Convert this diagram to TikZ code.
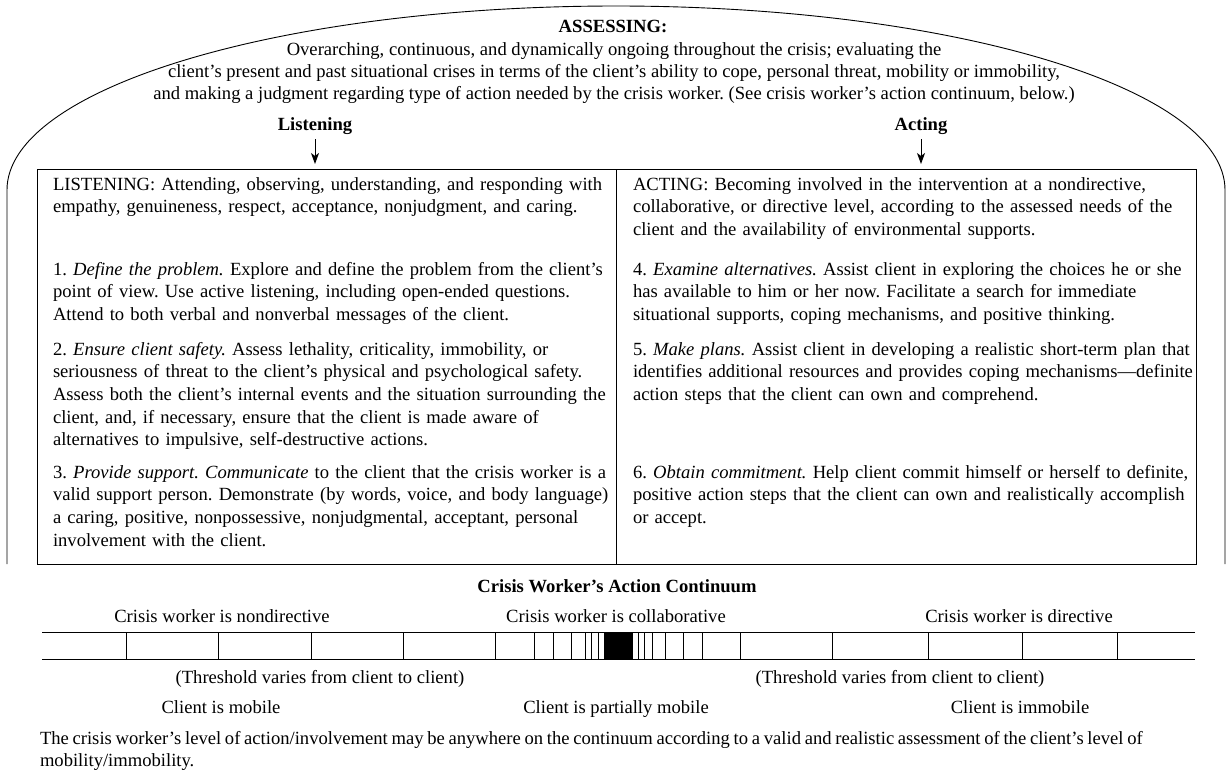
\documentclass[tikz,border=0pt]{standalone}
\usepackage{fontspec}
\setmainfont{Liberation Serif}
\usetikzlibrary{arrows.meta}
\frenchspacing
\begin{document}
\begin{tikzpicture}[x=1pt,y=-1pt,
  every node/.style={inner sep=0pt, outer sep=0pt, font=\fontsize{18.6}{22.7}\selectfont},
  para/.style={anchor=base west, text width=580pt, align=left},
  lbl/.style={anchor=base},
  hd/.style={anchor=base, font=\fontsize{18.6}{22.7}\selectfont\bfseries},
  frame/.style={draw, line width=0.9pt},
  arr/.style={-{Stealth[length=11pt,width=8pt,inset=3pt]}, line width=0.9pt, shorten <=5pt, shorten >=5pt},
  tick/.style={line width=0.8pt}]
\useasboundingbox (0,0) rectangle (1229,769);

% overarching assessment dome
\draw[line width=0.9pt] (7,564) -- (7,190)
  arc[start angle=180, end angle=360, x radius=609, y radius=184] -- (1225,564);

\node[hd]  (asmt) at (613,32.5) {ASSESSING:};
\node[lbl] (asm1) at (614,55)   {Overarching, continuous, and dynamically ongoing throughout the crisis; evaluating the};
\node[lbl] (asm2) at (614,77)   {client's present and past situational crises in terms of the client's ability to cope, personal threat, mobility or immobility,};
\node[lbl] (asm3) at (614,99)   {and making a judgment regarding type of action needed by the crisis worker. (See crisis worker's action continuum, below.)};

% the two columns
\node[frame, anchor=north west, minimum width=579pt, minimum height=395pt] (lbox) at (37,169) {};
\node[frame, anchor=north west, minimum width=580pt, minimum height=395pt] (abox) at (616,169) {};

\node[hd] (hdL) at (315,130) {Listening};
\node[hd] (hdA) at (921,130) {Acting};
\draw[arr] (hdL.south) -- (hdL.south |- lbox.north);
\draw[arr] (hdA.south) -- (hdA.south |- abox.north);

\node[para] (p0) at (53,190) {LISTENING: Attending, observing, understanding, and responding with\\
empathy, genuineness, respect, acceptance, nonjudgment, and caring.};
\node[para] (p1) at (53,275) {1. \textit{Define the problem.} Explore and define the problem from the client's\\
point of view. Use active listening, including open-ended questions.\\
Attend to both verbal and nonverbal messages of the client.};
\node[para] (p2) at (53,355) {2. \textit{Ensure client safety.} Assess lethality, criticality, immobility, or\\
seriousness of threat to the client's physical and psychological safety.\\
Assess both the client's internal events and the situation surrounding the\\
client, and, if necessary, ensure that the client is made aware of\\
alternatives to impulsive, self-destructive actions.};
\node[para] (p3) at (53,478) {3. \textit{Provide support. Communicate} to the client that the crisis worker is a\\
valid support person. Demonstrate (by words, voice, and body language)\\
a caring, positive, nonpossessive, nonjudgmental, acceptant, personal\\
involvement with the client.};

\node[para] (p4) at (633,190) {ACTING: Becoming involved in the intervention at a nondirective,\\
collaborative, or directive level, according to the assessed needs of the\\
client and the availability of environmental supports.};
\node[para] (p5) at (633,275) {4. \textit{Examine alternatives.} Assist client in exploring the choices he or she\\
has available to him or her now. Facilitate a search for immediate\\
situational supports, coping mechanisms, and positive thinking.};
\node[para] (p6) at (633,355) {5. \textit{Make plans.} Assist client in developing a realistic short-term plan that\\
identifies additional resources and provides coping mechanisms---definite\\
action steps that the client can own and comprehend.};
\node[para] (p7) at (633,478) {6. \textit{Obtain commitment.} Help client commit himself or herself to definite,\\
positive action steps that the client can own and realistically accomplish\\
or accept.};

% action continuum
\node[hd]  (ctitle) at (617,592) {Crisis Worker's Action Continuum};
\node[lbl] (cw1) at (222,622)  {Crisis worker is nondirective};
\node[lbl] (cw2) at (616,622)  {Crisis worker is collaborative};
\node[lbl] (cw3) at (1019,622) {Crisis worker is directive};

\draw[tick] (42,632) -- (1195,632);
\draw[tick] (42,659) -- (1195,659);
\foreach \x in {126,218,311,403,495,534,553,571,585,591,598,
                638,644,652,665,683,702,740,832,928,1022,1117}
  \draw[tick] (\x,632) -- (\x,659);
\fill (604,632) rectangle (633,659);

\node[lbl] (th1) at (320,683) {(Threshold varies from client to client)};
\node[lbl] (th2) at (900,683) {(Threshold varies from client to client)};
\node[lbl] (cl1) at (221,713)  {Client is mobile};
\node[lbl] (cl2) at (616,713)  {Client is partially mobile};
\node[lbl] (cl3) at (1020,713) {Client is immobile};

\node[para, text width=1180pt] (note) at (40,744) {\spaceskip=0.2em plus 0.1em\relax
The crisis worker's level of action/involvement may be anywhere on the continuum according to a valid and realistic assessment of the client's level of\\
mobility/immobility.};
\end{tikzpicture}
\end{document}
